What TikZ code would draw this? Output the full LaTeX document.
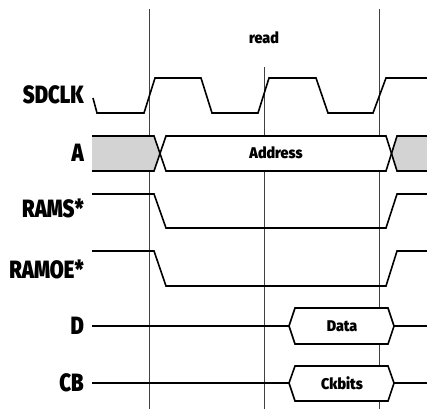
\documentclass[tikz,border=0pt]{standalone}
\usepackage{fontspec}
\newfontfamily\sigfont[FakeStretch=0.81]{Fira Sans Black}
\newfontfamily\boxfont[FakeStretch=0.92]{Fira Sans Black}
\usetikzlibrary{positioning}
\definecolor{busgray}{RGB}{211,211,211}

\begin{document}
\begin{tikzpicture}[x=1pt,y=-1pt,
    wave/.style={line width=1.6pt,line join=miter},
    grid/.style={line width=0.7pt,black!75},
    sig/.style={anchor=east,inner sep=0pt,font=\sigfont\fontsize{25}{25}\selectfont},
    lbl/.style={inner sep=0pt,font=\boxfont\fontsize{15.5}{15.5}\selectfont}]
   \useasboundingbox (0,0) rectangle (427,409);

   % cycle marks
   \draw[grid] (149,9) -- (149,409);
   \draw[grid] (264,67) -- (264,409);
   \draw[grid] (379,9) -- (379,409);

   % bus fill
   \fill[busgray] (92,136) -- (154,136) -- (160,153) -- (154,171) -- (92,171) -- cycle;
   \fill[busgray] (430,136) -- (397,136) -- (391,153) -- (397,171) -- (430,171) -- cycle;
   \fill[white] (160,153) -- (166,136) -- (386,136) -- (391,153) -- (386,171) -- (166,171) -- cycle;
   \fill[white] (289,326) -- (295,308) -- (388,308) -- (394,326) -- (388,344) -- (295,344) -- cycle;
   \fill[white] (289,383) -- (295,366) -- (388,366) -- (394,383) -- (388,401) -- (295,401) -- cycle;

   % signal names
   \node[sig] (sdclk) at (84,95)  {SDCLK};
   \node[sig] (addr)  at (84,153) {A};
   \node[sig] (rams)  at (84,208) {RAMS*};
   \node[sig] (ramoe) at (84,269) {RAMOE*};
   \node[sig] (data)  at (84,326) {D};
   \node[sig] (ckb)   at (84,383) {CB};

   \node[lbl] (rd)      at (264,38)  {read};
   \node[lbl] (address) at (276,153) {Address};
   \node[lbl] (dval)    at (342,326) {Data};
   \node[lbl] (cval)    at (342,383) {Ckbits};

   % waves
   \draw[wave] (93,98) -- (97,113) -- (144,113) -- (155,78) -- (201,78) -- (212,113)
      -- (258,113) -- (269,78) -- (316,78) -- (328,113) -- (373,113) -- (386,78) -- (430,78);
   \draw[wave] (92,136) -- (154,136) -- (166,171) -- (386,171) -- (397,136) -- (430,136);
   \draw[wave] (92,171) -- (154,171) -- (166,136) -- (386,136) -- (397,171) -- (430,171);
   \draw[wave] (92,194) -- (154,194) -- (166,228) -- (386,228) -- (397,194) -- (430,194);
   \draw[wave] (92,251) -- (154,251) -- (166,286) -- (386,286) -- (397,251) -- (430,251);
   \draw[wave] (92,326) -- (289,326) -- (295,308) -- (388,308) -- (394,326) -- (430,326);
   \draw[wave] (289,326) -- (295,344) -- (388,344) -- (394,326);
   \draw[wave] (92,383) -- (289,383) -- (295,366) -- (388,366) -- (394,383) -- (430,383);
   \draw[wave] (289,383) -- (295,401) -- (388,401) -- (394,383);
\end{tikzpicture}
\end{document}
